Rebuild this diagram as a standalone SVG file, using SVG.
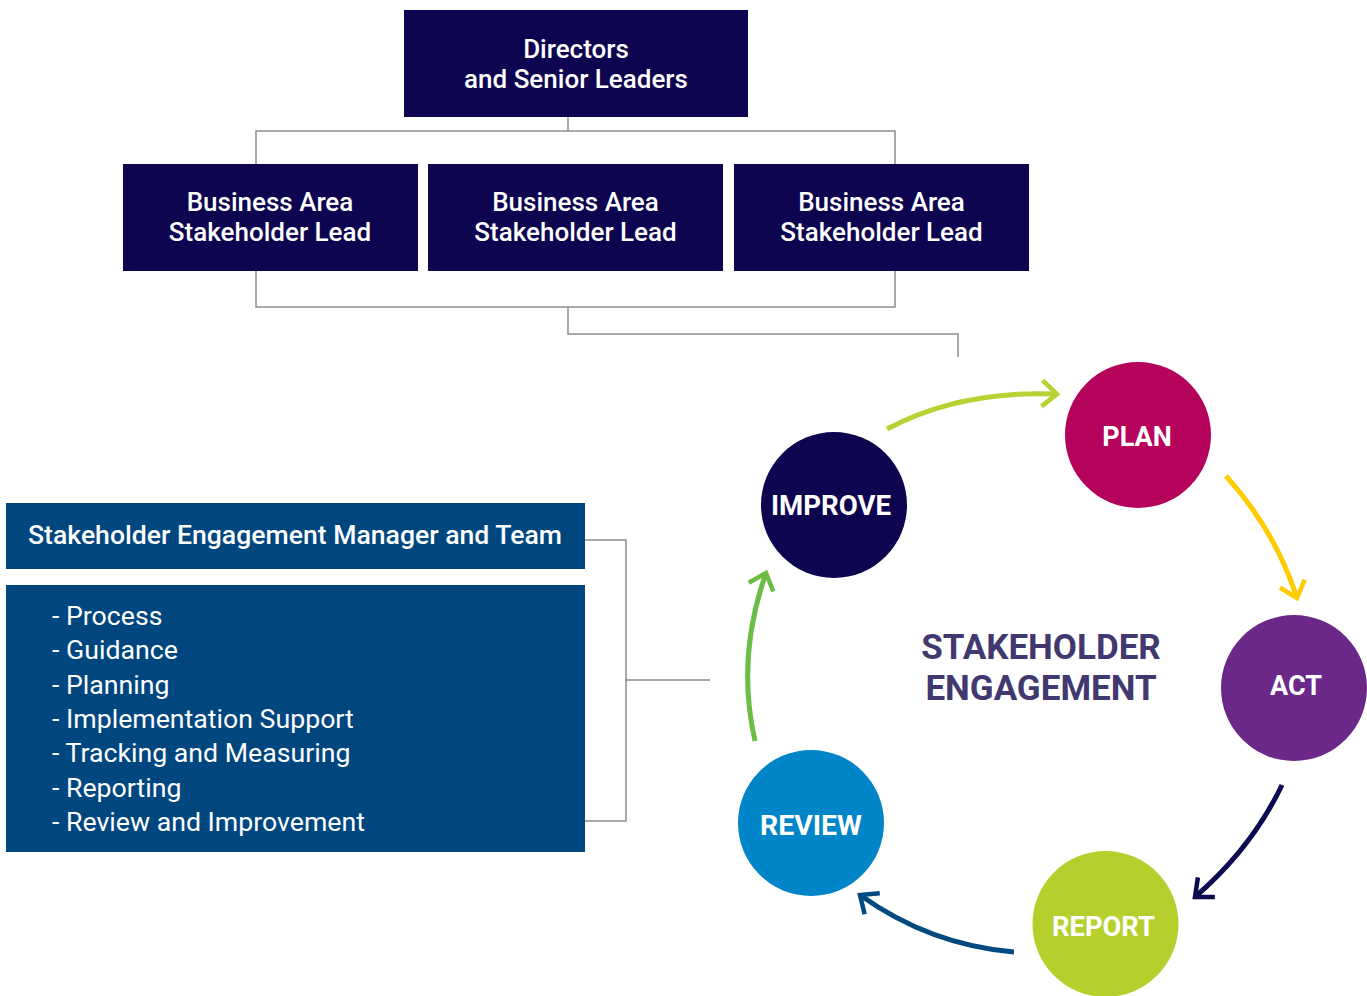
<svg xmlns="http://www.w3.org/2000/svg" width="1367" height="996" viewBox="0 0 1367 996">
<defs>
<style>
.box{fill:#0e0550}
.blue{fill:#00467f}
.bt{font-family:Roboto,"Liberation Sans",sans-serif;font-size:26px;font-weight:500;fill:#ffffff;text-anchor:middle}
.lt{font-family:Roboto,"Liberation Sans",sans-serif;font-size:26.7px;font-weight:400;fill:#ffffff}
.ht{font-family:Roboto,"Liberation Sans",sans-serif;font-size:26.6px;font-weight:500;fill:#ffffff}
.ct{font-family:Roboto,"Liberation Sans",sans-serif;font-size:27px;font-weight:700;fill:#ffffff;text-anchor:middle}
.mt{font-family:Roboto,"Liberation Sans",sans-serif;font-size:35px;font-weight:700;fill:#40386f;text-anchor:middle}
.ln{fill:none;stroke:#8c8c8c;stroke-width:1.5}
.ar{fill:none;stroke-width:5}
</style>
<marker id="mLime" markerUnits="userSpaceOnUse" orient="auto" markerWidth="40" markerHeight="40" refX="0" refY="0" viewBox="-20 -20 40 40" overflow="visible"><path d="M-15,-13 L0,0 L-15,13" fill="none" stroke="#b7d333" stroke-width="4.5"/></marker>
<marker id="mYel" markerUnits="userSpaceOnUse" orient="auto" markerWidth="40" markerHeight="40" refX="0" refY="0" viewBox="-20 -20 40 40" overflow="visible"><path d="M-15,-13 L0,0 L-15,13" fill="none" stroke="#ffcc00" stroke-width="4.5"/></marker>
<marker id="mNavy" markerUnits="userSpaceOnUse" orient="auto" markerWidth="40" markerHeight="40" refX="0" refY="0" viewBox="-20 -20 40 40" overflow="visible"><path d="M-15,-13 L0,0 L-15,13" fill="none" stroke="#0e0a50" stroke-width="4.5"/></marker>
<marker id="mBlue" markerUnits="userSpaceOnUse" orient="auto" markerWidth="40" markerHeight="40" refX="0" refY="0" viewBox="-20 -20 40 40" overflow="visible"><path d="M-15,-13 L0,0 L-15,13" fill="none" stroke="#004a80" stroke-width="4.5"/></marker>
<marker id="mGreen" markerUnits="userSpaceOnUse" orient="auto" markerWidth="40" markerHeight="40" refX="0" refY="0" viewBox="-20 -20 40 40" overflow="visible"><path d="M-15,-13 L0,0 L-15,13" fill="none" stroke="#6cbd45" stroke-width="4.5"/></marker>
</defs>
<rect width="1367" height="996" fill="#ffffff"/>

<g id="connectors">
<path class="ln" d="M568,117 V131 M256,164 V131 H895 V164"/>
<path class="ln" d="M256,271 V307 H895 V271 M568,307 V334 H958 V357"/>
<path class="ln" d="M585,540 H626 V821 H585 M626,680 H710"/>
<path class="ar" stroke="#b7d333" d="M887,429 Q960,390 1057,394" marker-end="url(#mLime)"/>
<path class="ar" stroke="#ffcc00" d="M1226,476 Q1275,530 1297,598" marker-end="url(#mYel)"/>
<path class="ar" stroke="#0e0a50" d="M1282,785 Q1252,848 1195,897" marker-end="url(#mNavy)"/>
<path class="ar" stroke="#004a80" d="M1014,952 Q930,945 860,895" marker-end="url(#mBlue)"/>
<path class="ar" stroke="#6cbd45" d="M755,741 Q736,658 766,573" marker-end="url(#mGreen)"/>
</g>

<g id="directors">
<rect class="box" x="404" y="10" width="344" height="107"/>
<text class="bt" x="576" y="58">Directors</text>
<text class="bt" x="576" y="88">and Senior Leaders</text>
</g>
<g id="lead1">
<rect class="box" x="123" y="164" width="295" height="107"/>
<text class="bt" x="270" y="211">Business Area</text>
<text class="bt" x="270" y="241">Stakeholder Lead</text>
</g>
<g id="lead2">
<rect class="box" x="428" y="164" width="295" height="107"/>
<text class="bt" x="575.5" y="211">Business Area</text>
<text class="bt" x="575.5" y="241">Stakeholder Lead</text>
</g>
<g id="lead3">
<rect class="box" x="734" y="164" width="295" height="107"/>
<text class="bt" x="881.5" y="211">Business Area</text>
<text class="bt" x="881.5" y="241">Stakeholder Lead</text>
</g>

<g id="manager">
<rect class="blue" x="6" y="503" width="579" height="66"/>
<text class="ht" x="28" y="544" textLength="534" lengthAdjust="spacing">Stakeholder Engagement Manager and Team</text>
</g>
<g id="services">
<rect class="blue" x="6" y="585" width="579" height="267"/>
<text class="lt" x="52" y="625">- Process</text>
<text class="lt" x="52" y="659.3">- Guidance</text>
<text class="lt" x="52" y="693.6">- Planning</text>
<text class="lt" x="52" y="727.9">- Implementation Support</text>
<text class="lt" x="52" y="762.2">- Tracking and Measuring</text>
<text class="lt" x="52" y="796.5">- Reporting</text>
<text class="lt" x="52" y="830.8">- Review and Improvement</text>
</g>

<g id="title">
<text class="mt" x="1041" y="659">STAKEHOLDER</text>
<text class="mt" x="1041" y="700">ENGAGEMENT</text>
</g>

<g id="plan">
<circle cx="1138" cy="435" r="73" fill="#b5035c"/>
<text class="ct" x="1137" y="446">PLAN</text>
</g>
<g id="act">
<circle cx="1294" cy="688" r="73" fill="#6b2889"/>
<text class="ct" x="1296" y="695">ACT</text>
</g>
<g id="report">
<circle cx="1105.5" cy="924" r="73" fill="#b7cf2d"/>
<text class="ct" x="1103.5" y="936" textLength="103" lengthAdjust="spacingAndGlyphs">REPORT</text>
</g>
<g id="review">
<circle cx="811" cy="823" r="73" fill="#0085c8"/>
<text class="ct" x="811" y="835" textLength="102" lengthAdjust="spacingAndGlyphs">REVIEW</text>
</g>
<g id="improve">
<circle cx="834" cy="505" r="73" fill="#0e0550"/>
<text class="ct" x="831" y="515" textLength="120" lengthAdjust="spacingAndGlyphs">IMPROVE</text>
</g>
</svg>
